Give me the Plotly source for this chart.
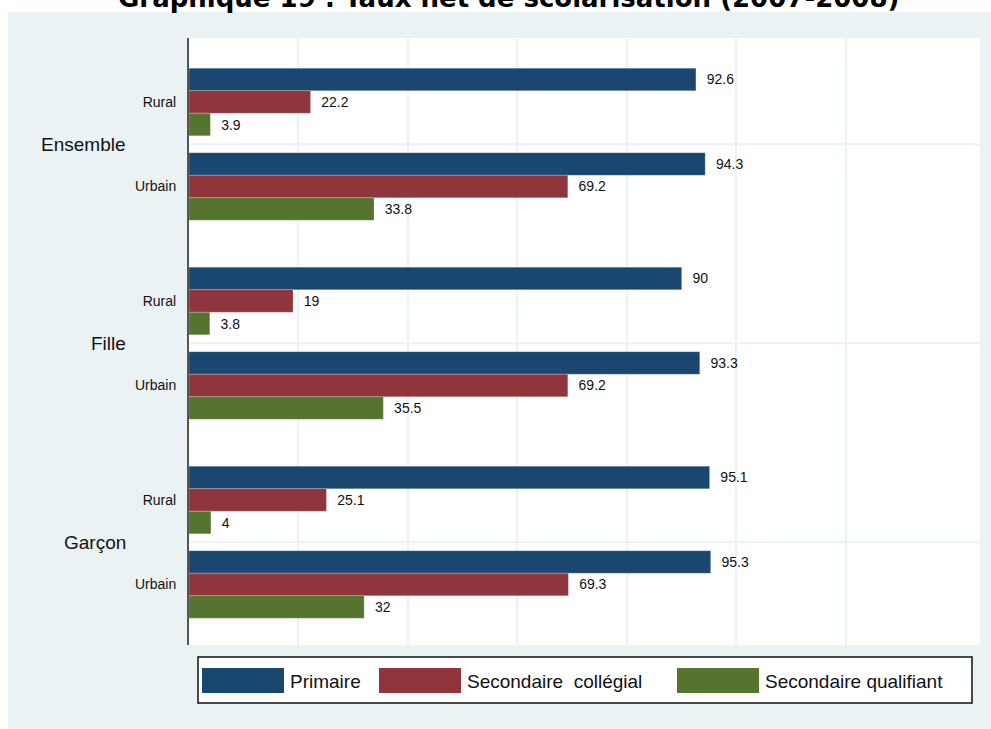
import plotly.graph_objects as go

# ---- data ----
groups = ["Ensemble", "Fille", "Garçon"]
zones = ["Rural", "Urbain"]
series_names = ["Primaire", "Secondaire  collégial", "Secondaire qualifiant"]
primaire = [92.6, 94.3, 90, 93.3, 95.1, 95.3]
college = [22.2, 69.2, 19, 69.2, 25.1, 69.3]
qualifiant = [3.9, 33.8, 3.8, 35.5, 4, 32]
grid_values = [20, 40, 60, 80, 100, 120]
title_text = "Graphique 19 : Taux net de scolarisation (2007-2008)"

colors = ["#1a476f", "#90353b", "#55752f"]
panel = "#eaf2f3"

# ---- layout geometry (pixels) ----
W, H = 991, 729
L, R, T, B = 189, 11, 38, 84
PW, PH = W - L - R, H - T - B

def px(x):
    return (x - L) / PW

def py(y):
    return (H - B - y) / PH

group_gap = 2.355  # distance between outer groups (sub-group spacing = 1)
positions = []
tick_text = []
for gi, g in enumerate(groups):
    for zi, z in enumerate(zones):
        positions.append(gi * group_gap + zi)
        tick_text.append(z)
group_centers = [gi * group_gap + 0.5 for gi in range(len(groups))]

fig = go.Figure()
for name, vals, col in zip(series_names, [primaire, college, qualifiant], colors):
    fig.add_trace(go.Bar(
        x=vals, y=positions, orientation="h", name=name,
        marker=dict(color=col, line=dict(width=0.6, color="rgba(255,255,255,0.35)")),
        text=["\u00a0\u00a0" + f"{v:g}" for v in vals],
        textposition="outside", constraintext="none", cliponaxis=False,
        textfont=dict(family="Liberation Sans, Arial", size=14, color="#111"),
        showlegend=False,
    ))

shapes = []
# outer light panel
shapes.append(dict(type="rect", xref="paper", yref="paper",
                   x0=px(8), x1=px(995), y0=py(733), y1=py(12),
                   fillcolor=panel, line=dict(width=0), layer="below"))
# white plot region
shapes.append(dict(type="rect", xref="paper", yref="paper",
                   x0=0, x1=1, y0=0, y1=1,
                   fillcolor="white", line=dict(width=0), layer="below"))
# horizontal grid lines at group centers
for c in group_centers:
    shapes.append(dict(type="line", xref="x domain", yref="y", x0=0, x1=1,
                       y0=c, y1=c, line=dict(color=panel, width=2), layer="below"))
# legend box
shapes.append(dict(type="rect", xref="paper", yref="paper",
                   x0=px(198), x1=px(972), y0=py(703), y1=py(657),
                   fillcolor="white", line=dict(color="#111", width=1.5)))

annotations = []
legend_sw = [202, 379, 677]
for name, col, sx in zip(series_names, colors, legend_sw):
    shapes.append(dict(type="rect", xref="paper", yref="paper",
                       x0=px(sx), x1=px(sx + 82), y0=py(693), y1=py(668),
                       fillcolor=col, line=dict(width=0)))
    annotations.append(dict(xref="paper", yref="paper", x=px(sx + 86), y=py(681),
                            xanchor="left", yanchor="middle", showarrow=False,
                            text=name.replace("  ", "\u00a0 "),
                            font=dict(family="Liberation Sans, Arial", size=19, color="#111")))

# outer group labels
for g, c in zip(groups, group_centers):
    annotations.append(dict(xref="paper", yref="y", x=px(128), y=c,
                            xanchor="right", yanchor="middle", showarrow=False,
                            text=g, font=dict(family="Liberation Sans, Arial", size=19, color="#111")))

# title (partly cut at top of page, as in the reference)
annotations.append(dict(xref="paper", yref="paper", x=px(508), y=py(-2),
                        xanchor="center", yanchor="middle", showarrow=False,
                        text="<b>" + title_text + "</b>",
                        font=dict(family="DejaVu Sans", size=26, color="#000")))

fig.update_layout(
    width=W, height=H,
    margin=dict(l=L, r=R, t=T, b=B, pad=0),
    paper_bgcolor="white", plot_bgcolor="white",
    barmode="group", bargap=0.2, bargroupgap=0,
    shapes=shapes, annotations=annotations,
    showlegend=False,
    xaxis=dict(range=[0, 144.5], tickvals=grid_values, showticklabels=False,
               showgrid=True, gridcolor=panel, gridwidth=2,
               zeroline=False, showline=False, ticks=""),
    yaxis=dict(range=[positions[-1] + 0.716, -0.757], tickvals=positions,
               ticktext=tick_text, showgrid=False, zeroline=False,
               showline=True, linecolor="#555", linewidth=2,
               ticks="", ticklabelstandoff=8,
               tickfont=dict(family="Liberation Sans, Arial", size=14, color="#111")),
)

fig.write_html("out.html", config={"displayModeBar": False},
               post_script="document.body.style.margin='0';document.body.style.overflow='hidden';")
